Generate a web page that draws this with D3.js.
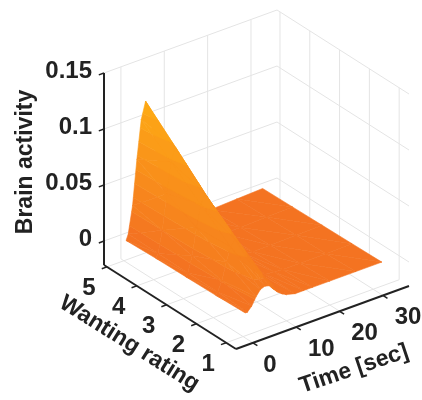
<!DOCTYPE html>
<html>
<head>
<meta charset="utf-8">
<script src="https://cdn.jsdelivr.net/npm/d3@7"></script>
<style>
html, body { margin: 0; background: #fff; }
svg { display: block; filter: blur(0.45px); }
text { font-family: "Liberation Sans", sans-serif; font-weight: bold; font-size: 24px; fill: #222; }
text.title { font-size: 23px; }
</style>
</head>
<body>
<svg width="422" height="400"></svg>
<script>
var time_ticks = [0, 10, 20, 30],
	rating_ticks = [1, 2, 3, 4, 5],
	z_ticks = [0, 0.05, 0.1, 0.15],
	z_tick_labels = ['0', '0.05', '0.1', '0.15']

var times = [0.5, 1, 2, 3, 4, 5, 6, 7, 8, 9, 10, 12, 14, 16, 20, 26, 32],
	ratings = [1, 2, 3, 4, 5]

var rating_1 = [-.001, -.001, .003, .010, .015, .0165, .0155, .011, .007, .004, .002, 0, 0, 0, 0, 0, 0],
	rating_2 = [-.002, 0, .009, .024, .036, .041, .037, .027, .018, .011, .005, .0005, -.0005, -.001, -.001, -.001, -.0005],
	rating_3 = [-.0025, 0, .014, .038, .057, .065, .058, .043, .029, .017, .008, .001, -.001, -.002, -.002, -.0015, -.001],
	rating_4 = [-.003, .0005, .020, .051, .078, .090, .079, .059, .039, .024, .012, .0015, -.0015, -.003, -.003, -.002, -.0015],
	rating_5 = [-.004, .001, .025, .065, .099, .114, .100, .075, .050, .030, .015, .002, -.002, -.004, -.004, -.003, -.002]

var activity = [rating_1, rating_2, rating_3, rating_4, rating_5]

var band_levels = [-.01, .008, .02, .032, .044, .056, .068, .08, .092, .104, .12]

var t_dom = [-3.9, 36], r_dom = [.67, 5.1], z_dom = [-.0214, .15],
	ox = 236, oy = 349

var tx = d3.scaleLinear().domain(t_dom).range([0, 173]),
	ty = d3.scaleLinear().domain(t_dom).range([0, -63]),
	rx = d3.scaleLinear().domain(r_dom).range([0, -132]),
	ry = d3.scaleLinear().domain(r_dom).range([0, -84]),
	zy = d3.scaleLinear().domain(z_dom).range([0, -192])

var band_color = d3.scaleLinear().domain([0, band_levels.length - 2]).range(['#f47321', '#fda815'])

var svg = d3.select('svg')

function project(t, r, z) {
	return [ox + tx(t) + rx(r), oy + ty(t) + ry(r) + zy(z)]
}

function line3(g, a, b, color, width) {
	var p = project.apply(null, a), q = project.apply(null, b)
	g.append('line')
		.attr('x1', p[0]).attr('y1', p[1])
		.attr('x2', q[0]).attr('y2', q[1])
		.attr('stroke', color)
		.attr('stroke-width', width)
}

// Grid on the floor and the two back walls
var grid = svg.append('g'), grid_color = '#e4e4e4'
time_ticks.forEach(function(t) {
	line3(grid, [t, r_dom[0], z_dom[0]], [t, r_dom[1], z_dom[0]], grid_color, 1)
	line3(grid, [t, r_dom[1], z_dom[0]], [t, r_dom[1], z_dom[1]], grid_color, 1)
})
rating_ticks.forEach(function(r) {
	line3(grid, [t_dom[0], r, z_dom[0]], [t_dom[1], r, z_dom[0]], grid_color, 1)
	line3(grid, [t_dom[1], r, z_dom[0]], [t_dom[1], r, z_dom[1]], grid_color, 1)
})
z_ticks.forEach(function(z) {
	line3(grid, [t_dom[0], r_dom[1], z], [t_dom[1], r_dom[1], z], grid_color, 1)
	line3(grid, [t_dom[1], r_dom[1], z], [t_dom[1], r_dom[0], z], grid_color, 1)
})

// Clip a polygon to lo <= z <= hi
function clip(poly, level, keep_above) {
	var out = []
	poly.forEach(function(p, i) {
		var q = poly[(i + 1) % poly.length],
			p_in = keep_above ? p[2] >= level : p[2] <= level,
			q_in = keep_above ? q[2] >= level : q[2] <= level
		if(p_in) out.push(p)
		if(p_in !== q_in) {
			var k = (level - p[2]) / (q[2] - p[2])
			out.push([p[0] + k * (q[0] - p[0]), p[1] + k * (q[1] - p[1]), level])
		}
	})
	return out
}

function draw_triangle(g, tri) {
	for(var b = 0; b < band_levels.length - 1; ++b) {
		var poly = clip(clip(tri, band_levels[b], true), band_levels[b + 1], false)
		if(poly.length < 3) continue
		var color = band_color(b)
		g.append('path')
			.attr('d', 'M' + poly.map(function(p) { return project(p[0], p[1], p[2]).join(',') }).join('L') + 'Z')
			.attr('fill', color)
			.attr('stroke', color)
			.attr('stroke-width', .6)
	}
}

// Back to front: late times and high ratings first
var surface = svg.append('g')
for(var i = times.length - 2; i >= 0; --i) {
	for(var j = ratings.length - 2; j >= 0; --j) {
		var a = [times[i], ratings[j], activity[j][i]],
			b = [times[i + 1], ratings[j], activity[j][i + 1]],
			c = [times[i + 1], ratings[j + 1], activity[j + 1][i + 1]],
			d = [times[i], ratings[j + 1], activity[j + 1][i]]
		draw_triangle(surface, [b, c, d])
		draw_triangle(surface, [a, b, d])
	}
}

// Axes
var axes = svg.append('g'), axis_color = '#222'
line3(axes, [t_dom[0], r_dom[1], z_dom[0]], [t_dom[0], r_dom[1], z_dom[1]], axis_color, 2)
line3(axes, [t_dom[0], r_dom[1], z_dom[0]], [t_dom[0], r_dom[0], z_dom[0]], axis_color, 2)
line3(axes, [t_dom[0], r_dom[0], z_dom[0]], [t_dom[1], r_dom[0], z_dom[0]], axis_color, 2)

z_ticks.forEach(function(z, i) {
	line3(axes, [t_dom[0], r_dom[1], z], [t_dom[0] - 1.2, r_dom[1], z], axis_color, 1.5)
	svg.append('text').attr('text-anchor', 'end')
		.attr('x', 92).attr('y', project(t_dom[0], r_dom[1], z)[1] + 5)
		.text(z_tick_labels[i])
})
rating_ticks.forEach(function(r) {
	line3(axes, [t_dom[0], r, z_dom[0]], [t_dom[0] - 1.2, r, z_dom[0]], axis_color, 1.5)
	var p = project(t_dom[0], r, z_dom[0])
	svg.append('text').attr('text-anchor', 'middle')
		.attr('x', p[0] - 18).attr('y', p[1] + 28)
		.text(r)
})
time_ticks.forEach(function(t) {
	line3(axes, [t, r_dom[0], z_dom[0]], [t, r_dom[0] - .15, z_dom[0]], axis_color, 1.5)
	var p = project(t, r_dom[0], z_dom[0])
	svg.append('text').attr('text-anchor', 'middle')
		.attr('x', p[0] + (t ? 25 : 17)).attr('y', p[1] + 29)
		.text(t)
})

svg.append('text').attr('class', 'title').attr('text-anchor', 'middle')
	.attr('transform', 'translate(32,162) rotate(-90)')
	.text('Brain activity')
svg.append('text').attr('class', 'title').attr('text-anchor', 'middle')
	.attr('transform', 'translate(126,349) rotate(32)')
	.text('Wanting rating')
svg.append('text').attr('class', 'title').attr('text-anchor', 'middle')
	.attr('transform', 'translate(356,375) rotate(-18.5)')
	.text('Time [sec]')
</script>
</body>
</html>
